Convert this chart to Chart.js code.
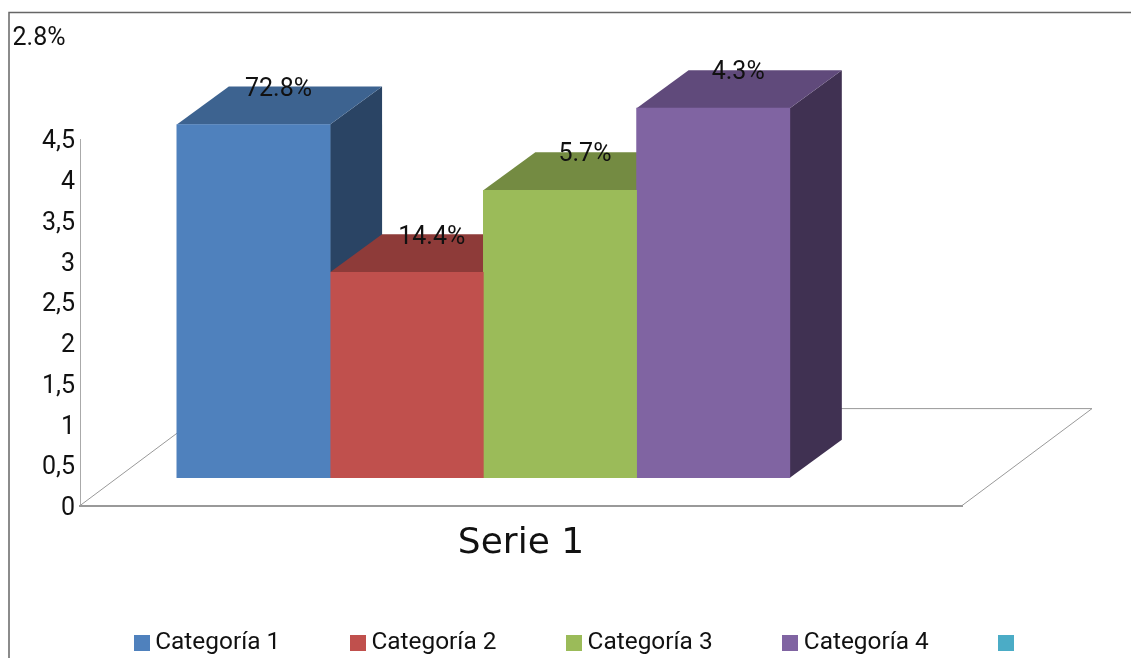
<!DOCTYPE html>
<html>
<head>
<meta charset="utf-8">
<title>Serie 1</title>
<script src="https://cdn.jsdelivr.net/npm/chart.js@4"></script>
<style>
	html, body { margin: 0; background: #fff; overflow: hidden; }
	canvas { display: block; }
</style>
</head>
<body>
<canvas id="chart" width="1131" height="658"></canvas>
<script>
//Values
const seriesName = ["Serie 1"];
const categories = ["Categoría 1", "Categoría 2", "Categoría 3", "Categoría 4"];
const values = [4.3, 2.5, 3.5, 4.5];
const valueLabels = ["72.8%", "14.4%", "5.7%", "4.3%"];
const strayLabel = "2.8%";
const emptyLegendColor = "#4BACC6";

//Colours of the three visible faces of each bar
const frontColors = ["#4F81BD", "#C0504D", "#9BBB59", "#8064A2"];
const topColors = ["#3D6390", "#8E3B39", "#748B42", "#604A7B"];
const sideColors = ["#2A4464", "#6E2E2C", "#566B30", "#403152"];

const FONT = "Roboto";
const DEPTH_X = 52;
const DEPTH_Y = 38;

function polygon(ctx, points, color) {
	ctx.fillStyle = color;
	ctx.beginPath();
	points.forEach((p, i) => i ? ctx.lineTo(p[0], p[1]) : ctx.moveTo(p[0], p[1]));
	ctx.closePath();
	ctx.fill();
}

// Legend swatch, drawn on a small canvas so it sits close to the text
function swatch(color) {
	const c = document.createElement("canvas");
	c.width = 16;
	c.height = 16;
	const g = c.getContext("2d");
	g.fillStyle = color;
	g.fillRect(0, 0, 16, 16);
	return c;
}

const box3d = {
	id: "box3d",
	beforeDatasetsDraw(chart) {
		const ctx = chart.ctx;
		const x = chart.scales.x;
		const bottom = chart.scales.y.bottom;

		//Outer frame
		ctx.save();
		ctx.strokeStyle = "#666";
		ctx.lineWidth = 1.5;
		ctx.beginPath();
		ctx.moveTo(9, 700);
		ctx.lineTo(9, 12.5);
		ctx.lineTo(1200, 12.5);
		ctx.stroke();

		//Floor
		ctx.strokeStyle = "#999";
		ctx.lineWidth = 1;
		ctx.beginPath();
		ctx.moveTo(x.left, bottom);
		ctx.lineTo(x.left + 130, bottom - 97);
		ctx.lineTo(x.right + 130, bottom - 97);
		ctx.lineTo(x.right, bottom);
		ctx.stroke();

		//Sides and tops, left to right. The fronts come from Chart.js afterwards
		categories.forEach((c, i) => {
			const bar = chart.getDatasetMeta(i).data[0];
			const left = bar.x - bar.width / 2;
			const right = bar.x + bar.width / 2;
			polygon(ctx, [[right, bar.y], [right + DEPTH_X, bar.y - DEPTH_Y], [right + DEPTH_X, bar.base - DEPTH_Y], [right, bar.base]], sideColors[i]);
			polygon(ctx, [[left, bar.y], [left + DEPTH_X, bar.y - DEPTH_Y], [right + DEPTH_X, bar.y - DEPTH_Y], [right, bar.y]], topColors[i]);
		});
		ctx.restore();
	},
	afterDatasetsDraw(chart) {
		const ctx = chart.ctx;
		ctx.save();
		ctx.font = "25px " + FONT;
		ctx.fillStyle = "#111";
		ctx.textAlign = "center";
		ctx.textBaseline = "middle";
		valueLabels.forEach((label, i) => {
			const bar = chart.getDatasetMeta(i).data[0];
			ctx.fillText(label, bar.x + 25, bar.y - DEPTH_Y + 3);
		});
		ctx.fillText(strayLabel, 39, 39);
		ctx.restore();
	}
};

new Chart(document.getElementById("chart"), {
	type: "bar",
	data: {
		labels: seriesName,
		datasets: categories.map((name, i) => ({
			label: name,
			data: [{ x: 0.4573, y: values[i] }],
			xAxisID: "xBars",
			yAxisID: "yBars",
			backgroundColor: frontColors[i],
			barThickness: 153.25,
			clip: false
		}))
	},
	plugins: [box3d],
	options: {
		responsive: false,
		animation: false,
		events: [],
		layout: { padding: { left: 29, top: 139, right: 0, bottom: -7 } },
		scales: {
			x: {
				type: "category",
				offset: true,
				grid: { display: false },
				border: { color: "#999", width: 2 },
				ticks: { padding: 8, color: "#111", font: { family: "DejaVu Sans", size: 36 } },
				afterFit: scale => { scale.height = 49; }
			},
			y: {
				min: 0,
				max: 4.5,
				grid: { display: false, drawTicks: false },
				border: { color: "#aaa" },
				ticks: {
					stepSize: 0.5,
					padding: 5,
					color: "#111",
					font: { family: FONT, size: 25, lineHeight: 0.25 },
					// The empty first line pushes the digits down onto the tick position
					callback: v => ["", String(v).replace(".", ",")]
				},
				afterFit: scale => { scale.width = 51; }
			},
			// The bars stand in front of the axis plane, so they get their own scales
			xBars: { type: "linear", display: false, offset: false, min: 0, max: 1 },
			yBars: {
				position: "right",
				min: -0.3406,
				max: 4.124,
				grid: { display: false },
				border: { display: false },
				ticks: { display: false },
				afterFit: scale => { scale.width = 169; }
			}
		},
		plugins: {
			tooltip: { enabled: false },
			title: { display: false },
			legend: {
				position: "bottom",
				labels: {
					usePointStyle: true,
					boxWidth: 3,
					boxHeight: 16,
					padding: 76,
					color: "#111",
					font: { family: FONT, size: 24.4 },
					generateLabels: () => categories.concat("").map((name, i) => ({
						text: name,
						pointStyle: swatch(frontColors[i] || emptyLegendColor),
						fontColor: "#111",
						lineWidth: 0,
						hidden: false,
						datasetIndex: i
					}))
				}
			}
		}
	}
});
</script>
</body>
</html>
